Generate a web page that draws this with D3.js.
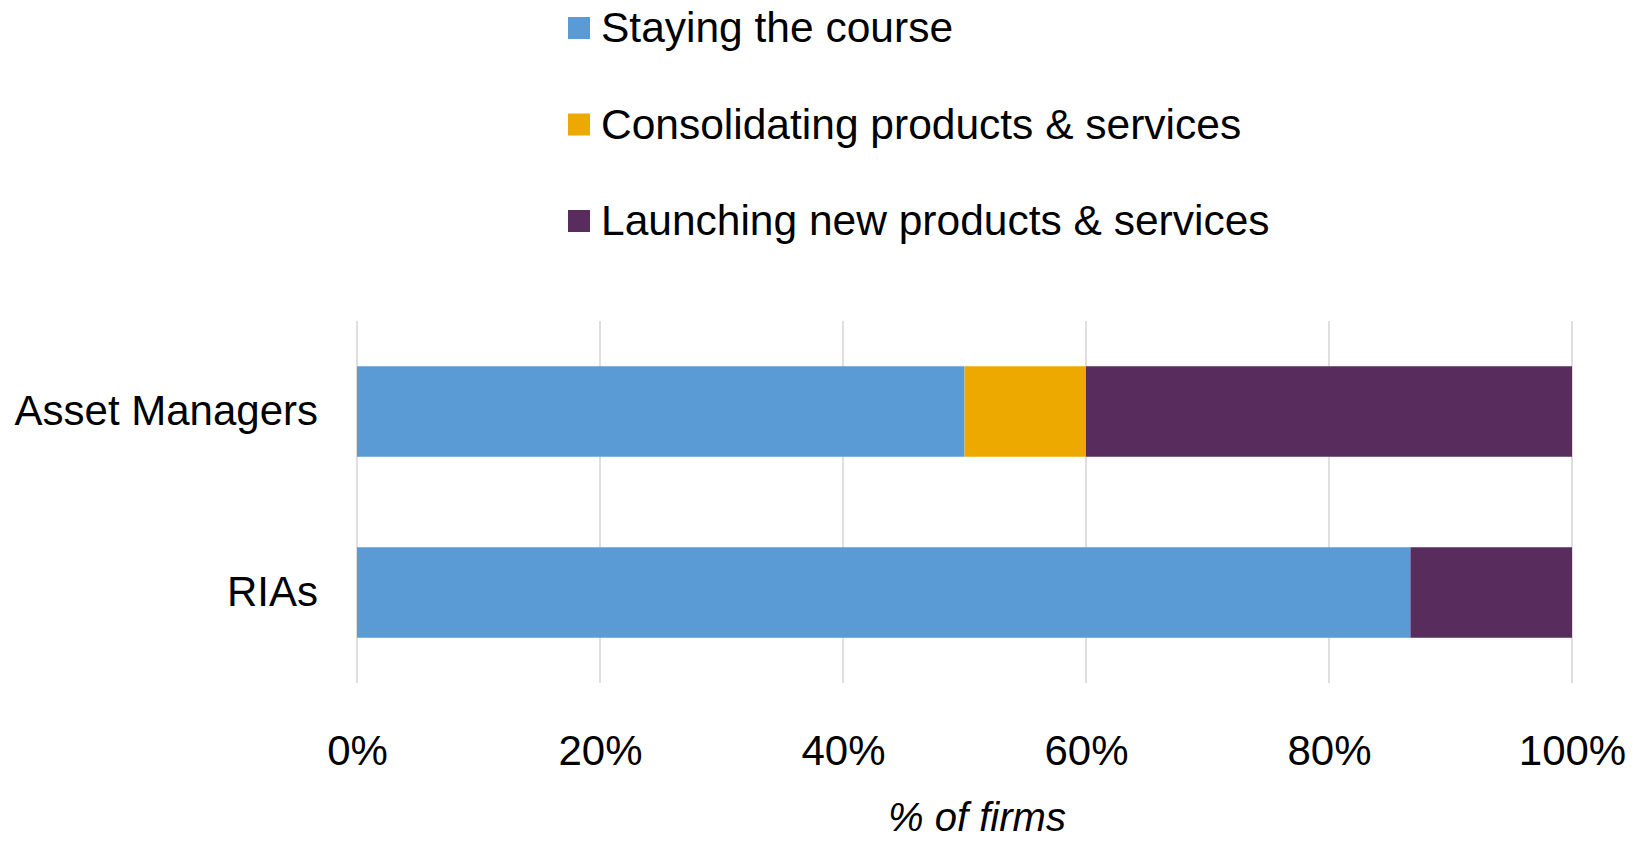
<!DOCTYPE html>
<html>
<head>
<meta charset="utf-8">
<script src="https://cdn.jsdelivr.net/npm/d3@7"></script>
<style>
  body { margin: 0; background: #fff; }
  svg text { font-family: "Liberation Sans", Arial, sans-serif; fill: #000; }
</style>
</head>
<body>
<svg id="chart" width="1640" height="842"></svg>
<script>
  // categories, top to bottom
  var categories = ['Asset Managers', 'RIAs'];

  // series (percent of firms)
  var seriesNames = ['Staying the course', 'Consolidating products & services', 'Launching new products & services'];
  var staying = [50, 86.7];
  var consolidating = [10, 0];
  var launching = [40, 13.3];

  var colors = ['#5b9bd5', '#eda900', '#592c5e'];
  var tickValues = [0, 20, 40, 60, 80, 100];

  // build rows for the stack layout
  var rows = categories.map(function (c, i) {
    return { cat: c, s0: staying[i], s1: consolidating[i], s2: launching[i] };
  });
  var stacked = d3.stack().keys(['s0', 's1', 's2'])(rows);

  var svg = d3.select('#chart');

  // plot area
  var plot = { left: 357, right: 1572, top: 321, bottom: 683 };

  var x = d3.scaleLinear().domain([0, 100]).range([plot.left, plot.right]);
  var y = d3.scaleBand().domain(categories).range([plot.top, plot.bottom]).paddingInner(0.5).paddingOuter(0.25);

  // gridlines
  svg.append('g')
    .attr('class', 'grid')
    .selectAll('line')
    .data(tickValues)
    .enter().append('line')
    .attr('x1', function (d) { return x(d); })
    .attr('x2', function (d) { return x(d); })
    .attr('y1', plot.top)
    .attr('y2', plot.bottom)
    .attr('stroke', '#d4d4d4')
    .attr('stroke-width', 1.5);

  // bars
  svg.append('g')
    .selectAll('g')
    .data(stacked)
    .enter().append('g')
    .attr('fill', function (d, i) { return colors[i]; })
    .selectAll('rect')
    .data(function (d) { return d; })
    .enter().append('rect')
    .attr('x', function (d) { return x(d[0]); })
    .attr('y', function (d) { return y(d.data.cat); })
    .attr('width', function (d) { return x(d[1]) - x(d[0]); })
    .attr('height', y.bandwidth());

  // x axis labels
  var xAxis = svg.append('g')
    .attr('transform', 'translate(0,' + plot.bottom + ')')
    .call(d3.axisBottom(x).tickValues(tickValues).tickFormat(function (d) { return d + '%'; }).tickSize(0).tickPadding(52));
  xAxis.select('.domain').remove();
  xAxis.selectAll('text')
    .attr('font-size', 42)
    .attr('fill', '#000');

  // y axis labels
  var yAxis = svg.append('g')
    .attr('transform', 'translate(' + plot.left + ',0)')
    .call(d3.axisLeft(y).tickSize(0).tickPadding(39));
  yAxis.select('.domain').remove();
  yAxis.selectAll('text')
    .attr('font-size', 42)
    .attr('fill', '#000')
    .attr('dy', '0.33em');

  // axis title
  svg.append('text')
    .attr('x', 977)
    .attr('y', 831)
    .attr('text-anchor', 'middle')
    .attr('font-size', 40)
    .attr('font-style', 'italic')
    .text('% of firms');

  // legend
  var legend = svg.append('g')
    .attr('transform', 'translate(568,0)')
    .selectAll('g')
    .data(seriesNames)
    .enter().append('g')
    .attr('transform', function (d, i) { return 'translate(0,' + (17 + i * 96.5) + ')'; });

  legend.append('rect')
    .attr('width', 22)
    .attr('height', 22)
    .attr('fill', function (d, i) { return colors[i]; });

  legend.append('text')
    .attr('x', 33)
    .attr('y', 25)
    .attr('font-size', 42.5)
    .text(function (d) { return d; });
</script>
</body>
</html>
